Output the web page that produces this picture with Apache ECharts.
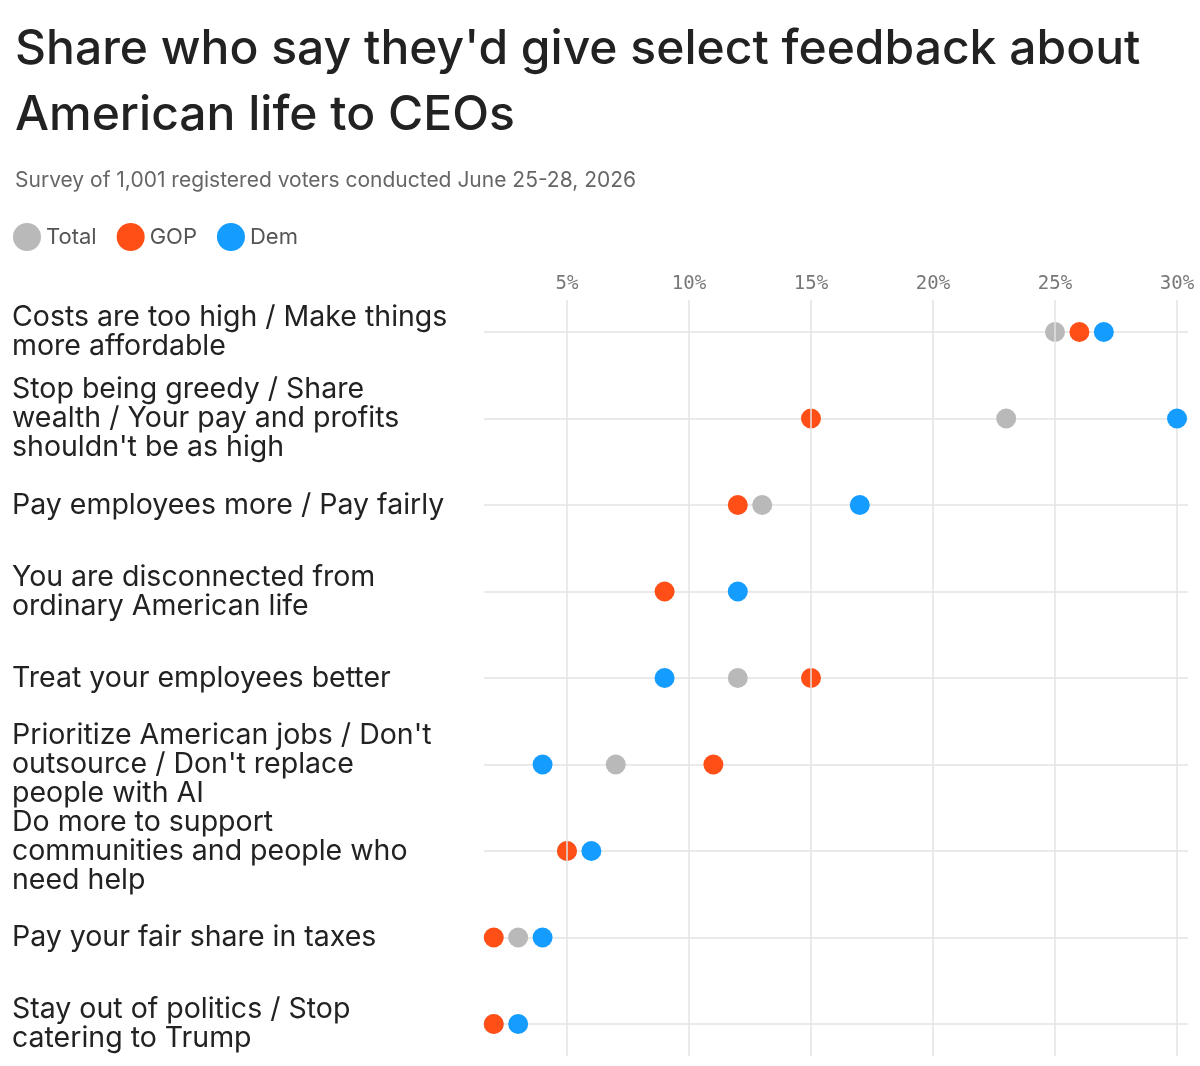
<!DOCTYPE html>
<html><head><meta charset="utf-8">
<script src="https://cdn.jsdelivr.net/npm/echarts@6/dist/echarts.min.js"></script>
<style>html,body{margin:0;padding:0;background:#fff}#c{width:1200px;height:1066px}</style>
</head><body><div id="c"></div>
<script>
const categories = [
  "Costs are too high / Make things\nmore affordable",
  "Stop being greedy / Share\nwealth / Your pay and profits\nshouldn't be as high",
  "Pay employees more / Pay fairly",
  "You are disconnected from\nordinary American life",
  "Treat your employees better",
  "Prioritize American jobs / Don't\noutsource / Don't replace\npeople with AI",
  "Do more to support\ncommunities and people who\nneed help",
  "Pay your fair share in taxes",
  "Stay out of politics / Stop\ncatering to Trump"
];
const totalVals = [25, 23, 13, null, 12, 7, 5, 3, 2];
const gopVals   = [26, 15, 12, 9, 15, 11, 5, 2, 2];
const demVals   = [27, 30, 17, 12, 9, 4, 6, 4, 3];
const tickValues = [5, 10, 15, 20, 25, 30];

const font = "Inter, 'Noto Sans', sans-serif";
const mk = (vals) => vals.map((v, i) => v == null ? null : [v, categories[i]]).filter(d => d);
const chart = echarts.init(document.getElementById('c'));
chart.setOption({
  backgroundColor: '#fff',
  animation: false,
  title: [
    {text: "Share who say they'd give select feedback about\nAmerican life to CEOs", left: 10, top: 12,
     textStyle: {fontFamily: font, fontSize: 48, fontWeight: 500, color: '#222', lineHeight: 66}},
    {text: "Survey of 1,001 registered voters conducted June 25-28, 2026", left: 10, top: 165,
     textStyle: {fontFamily: font, fontSize: 21, fontWeight: 400, color: '#666'}}
  ],
  legend: {left: 8, top: 218, itemWidth: 28, itemHeight: 28, itemGap: 20, icon: 'circle',
    textStyle: {fontFamily: font, fontSize: 22, color: '#555'}, data: ['Total', 'GOP', 'Dem']},
  grid: {left: 484, right: 12, top: 332, bottom: 42, containLabel: false},
  xAxis: {type: 'value', position: 'top', min: 1.6, max: 30.45,
    axisLine: {show: false}, axisTick: {show: false},
    splitLine: {show: false},
    axisLabel: {fontFamily: "'DejaVu Sans Mono', monospace", fontSize: 19, color: '#777', margin: 38,
      customValues: tickValues, formatter: v => v + '%'}
  },
  yAxis: {type: 'category', inverse: true, boundaryGap: false, data: categories,
    axisLine: {show: false}, axisTick: {show: false},
    splitLine: {show: true, lineStyle: {color: '#e3e3e3', width: 1.5}},
    axisLabel: {align: 'left', margin: 472,
      fontFamily: font, fontSize: 28.5, color: '#222', lineHeight: 29}
  },
  series: [
    {type: 'line', silent: true, data: [], markLine: {symbol: 'none', silent: true, label: {show: false},
      lineStyle: {color: '#e3e3e3', width: 1.5, type: 'solid'},
      data: tickValues.map(v => [{coord: [v, categories[0]], y: 300}, {coord: [v, categories[8]], y: 1056}])}},
    {name: 'Total', type: 'scatter', symbolSize: 20, itemStyle: {color: '#b9b9b9', opacity: 1}, data: mk(totalVals), z: 3},
    {name: 'GOP', type: 'scatter', symbolSize: 20, itemStyle: {color: '#ff4f17', opacity: 1}, data: mk(gopVals), z: 4},
    {name: 'Dem', type: 'scatter', symbolSize: 20, itemStyle: {color: '#149cff', opacity: 1}, data: mk(demVals), z: 5}
  ]
});
</script></body></html>
